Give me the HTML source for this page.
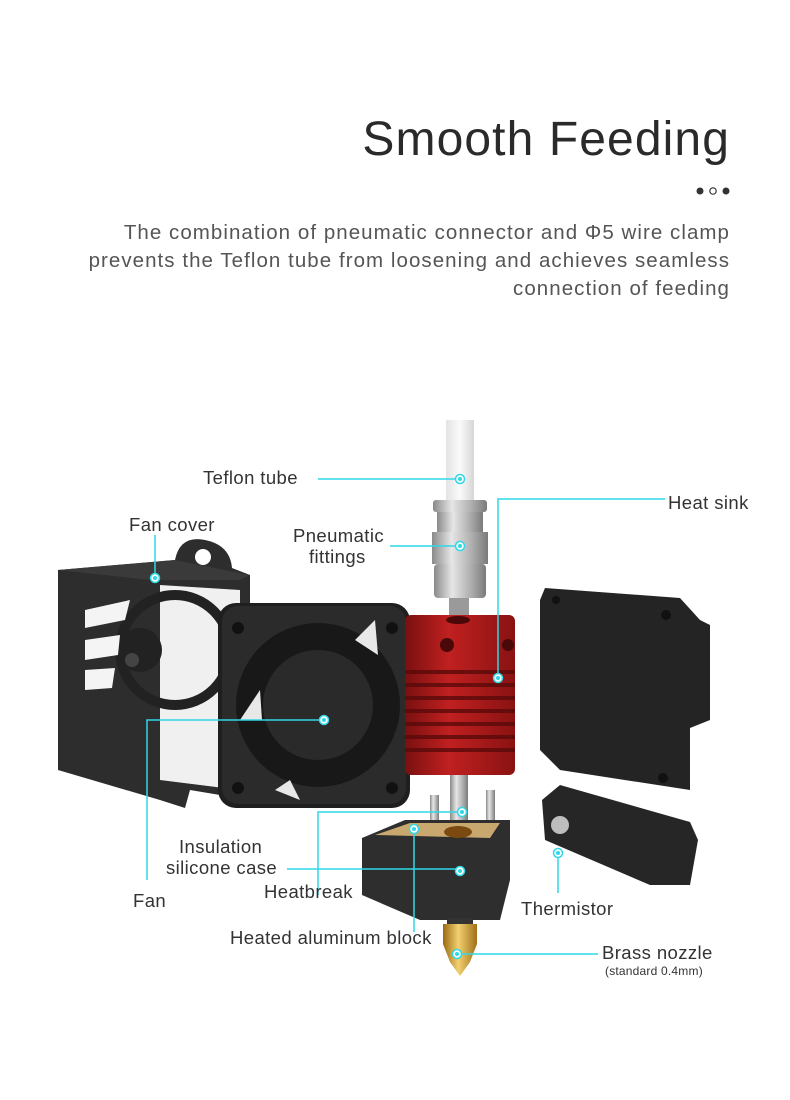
<!DOCTYPE html>
<html><head><meta charset="utf-8"><style>
html,body{margin:0;padding:0;background:#fff;width:790px;height:1100px;overflow:hidden}
svg{display:block}
text{font-family:"Liberation Sans",sans-serif}
</style></head><body>
<svg width="790" height="1100" viewBox="0 0 790 1100" xmlns="http://www.w3.org/2000/svg">
<defs>
<linearGradient id="tube" x1="0" x2="1"><stop offset="0" stop-color="#e4e4e4"/><stop offset=".5" stop-color="#fafafa"/><stop offset="1" stop-color="#d6d6d6"/></linearGradient>
<linearGradient id="metal" x1="0" x2="1"><stop offset="0" stop-color="#8a8a8a"/><stop offset=".35" stop-color="#e6e6e6"/><stop offset=".7" stop-color="#b0b0b0"/><stop offset="1" stop-color="#7a7a7a"/></linearGradient>
<linearGradient id="red" x1="0" x2="1"><stop offset="0" stop-color="#7a1010"/><stop offset=".4" stop-color="#c02020"/><stop offset="1" stop-color="#8a1212"/></linearGradient>
<linearGradient id="brass" x1="0" x2="1"><stop offset="0" stop-color="#9a6a10"/><stop offset=".45" stop-color="#f2d070"/><stop offset="1" stop-color="#a07018"/></linearGradient>
</defs>

<text x="730" y="155" font-size="48" fill="#2a2a2a" text-anchor="end" letter-spacing="1.1">Smooth Feeding</text>
<circle cx="700" cy="191" r="3.5" fill="#333"/>
<circle cx="713" cy="191" r="3.2" fill="none" stroke="#333" stroke-width="1.2"/>
<circle cx="726" cy="191" r="3.5" fill="#333"/>
<g font-size="20.5" fill="#555" text-anchor="end" letter-spacing="1.05">
<text x="730" y="239">The combination of pneumatic connector and Φ5 wire clamp</text>
<text x="730" y="267">prevents the Teflon tube from loosening and achieves seamless</text>
<text x="730" y="295">connection of feeding</text>
</g>

<path d="M175 560 Q180 535 205 540 Q230 545 232 568 L250 575 L250 800 L190 790 L185 808 L160 800 L58 770 L58 570 L175 560Z" fill="#2d2d2d"/>
<path d="M58 570 L175 560 L250 575 L240 580 L150 580Z" fill="#3a3a3a"/>
<circle cx="203" cy="557" r="8" fill="#fff"/>
<path d="M160 585 L240 590 L240 790 L160 780Z" fill="#f0f0f0"/>
<circle cx="175" cy="650" r="55" fill="none" stroke="#222" stroke-width="10"/>
<circle cx="140" cy="650" r="22" fill="#222"/>
<circle cx="132" cy="660" r="7" fill="#444"/>
<path d="M85 610 L130 600 L125 620 L85 628Z M85 640 L120 635 L118 655 L85 660Z M85 670 L115 668 L112 688 L85 690Z" fill="#f4f4f4"/>

<rect x="218" y="603" width="192" height="205" rx="18" fill="#1f1f1f"/>
<rect x="222" y="606" width="184" height="198" rx="16" fill="#2b2b2b"/>
<circle cx="318" cy="705" r="82" fill="#181818"/>
<circle cx="318" cy="705" r="55" fill="#2a2a2a"/>
<path d="M260 690 L240 720 L262 720Z M355 640 L375 620 L378 655Z M290 780 L300 800 L275 790Z" fill="#e8e8e8"/>
<circle cx="238" cy="628" r="6" fill="#111"/><circle cx="392" cy="628" r="6" fill="#111"/>
<circle cx="238" cy="788" r="6" fill="#111"/><circle cx="392" cy="788" r="6" fill="#111"/>

<rect x="446" y="420" width="28" height="90" fill="url(#tube)"/>
<rect x="433" y="500" width="54" height="12" rx="3" fill="url(#metal)"/>
<rect x="437" y="512" width="46" height="20" fill="url(#metal)"/>
<rect x="432" y="532" width="56" height="32" fill="url(#metal)"/>
<rect x="434" y="564" width="52" height="34" rx="4" fill="url(#metal)"/>
<rect x="449" y="598" width="20" height="20" fill="#9a9a9a"/>
<rect x="405" y="615" width="110" height="160" rx="6" fill="url(#red)"/>
<g fill="#5a0a0a" opacity=".8">
<rect x="405" y="670" width="110" height="4"/><rect x="405" y="683" width="110" height="4"/>
<rect x="405" y="696" width="110" height="4"/><rect x="405" y="709" width="110" height="4"/>
<rect x="405" y="722" width="110" height="4"/><rect x="405" y="735" width="110" height="4"/>
<rect x="405" y="748" width="110" height="4"/>
</g>
<circle cx="447" cy="645" r="7" fill="#4a0808"/><circle cx="508" cy="645" r="6" fill="#4a0808"/>
<ellipse cx="458" cy="620" rx="12" ry="4" fill="#4a0808"/>
<rect x="450" y="775" width="18" height="50" fill="url(#metal)"/>
<rect x="430" y="795" width="9" height="45" fill="url(#metal)"/>
<rect x="486" y="790" width="9" height="45" fill="url(#metal)"/>
<path d="M362 838 L405 820 L510 820 L510 880 L500 920 L420 920 L362 895Z" fill="#2e2e2e"/>
<path d="M375 835 L410 823 L500 823 L490 838Z" fill="#c9a870"/>
<ellipse cx="458" cy="832" rx="14" ry="6" fill="#7a4a10"/>
<rect x="447" y="918" width="26" height="6" fill="#333"/>
<rect x="443" y="924" width="34" height="20" fill="url(#brass)"/>
<path d="M443 944 L477 944 L470 962 L460 976 L450 962Z" fill="url(#brass)"/>

<path d="M545 588 L680 598 L700 620 L710 625 L710 720 L690 728 L690 790 L560 770 L540 750 L540 600Z" fill="#242424"/>
<circle cx="556" cy="600" r="4" fill="#111"/><circle cx="666" cy="615" r="5" fill="#111"/><circle cx="663" cy="778" r="5" fill="#111"/>
<path d="M542 800 L560 785 L690 822 L698 840 L690 885 L650 885 L545 840Z" fill="#262626"/>
<circle cx="560" cy="825" r="9" fill="#bdbdbd"/>

<g stroke="#2fd8e6" stroke-width="1.5" fill="none">
<path d="M318 479 L460 479"/>
<path d="M390 546 L460 546"/>
<path d="M665 499 L498 499 L498 678"/>
<path d="M155 580 L155 535"/>
<path d="M147 880 L147 720 L324 720"/>
<path d="M318 895 L318 812 L462 812"/>
<path d="M287 869 L460 869"/>
<path d="M414 932 L414 829"/>
<path d="M558 893 L558 853"/>
<path d="M457 954 L598 954"/>
</g>
<g fill="#fff" stroke="#2fd8e6" stroke-width="1.5">
<circle cx="460" cy="479" r="4.5"/><circle cx="460" cy="546" r="4.5"/><circle cx="498" cy="678" r="4.5"/>
<circle cx="155" cy="578" r="4.5"/><circle cx="324" cy="720" r="4.5"/><circle cx="462" cy="812" r="4.5"/>
<circle cx="460" cy="871" r="4.5"/><circle cx="414" cy="829" r="4.5"/><circle cx="558" cy="853" r="4.5"/>
<circle cx="457" cy="954" r="4.5"/>
</g>
<g fill="#2fd8e6"><circle cx="460" cy="479" r="2"/><circle cx="460" cy="546" r="2"/><circle cx="498" cy="678" r="2"/><circle cx="155" cy="578" r="2"/><circle cx="324" cy="720" r="2"/><circle cx="462" cy="812" r="2"/><circle cx="460" cy="871" r="2"/><circle cx="414" cy="829" r="2"/><circle cx="558" cy="853" r="2"/><circle cx="457" cy="954" r="2"/></g>

<g font-size="18.5" fill="#333" letter-spacing="0.4">
<text x="203" y="484">Teflon tube</text>
<text x="668" y="509">Heat sink</text>
<text x="129" y="531">Fan cover</text>
<text x="293" y="542">Pneumatic</text>
<text x="309" y="563">fittings</text>
<text x="179" y="853">Insulation</text>
<text x="166" y="874">silicone case</text>
<text x="133" y="907">Fan</text>
<text x="264" y="898">Heatbreak</text>
<text x="521" y="915">Thermistor</text>
<text x="230" y="944">Heated aluminum block</text>
<text x="602" y="959">Brass nozzle</text>
<text x="605" y="975" font-size="12" letter-spacing="0.2">(standard 0.4mm)</text>
</g>
</svg>
</body></html>
